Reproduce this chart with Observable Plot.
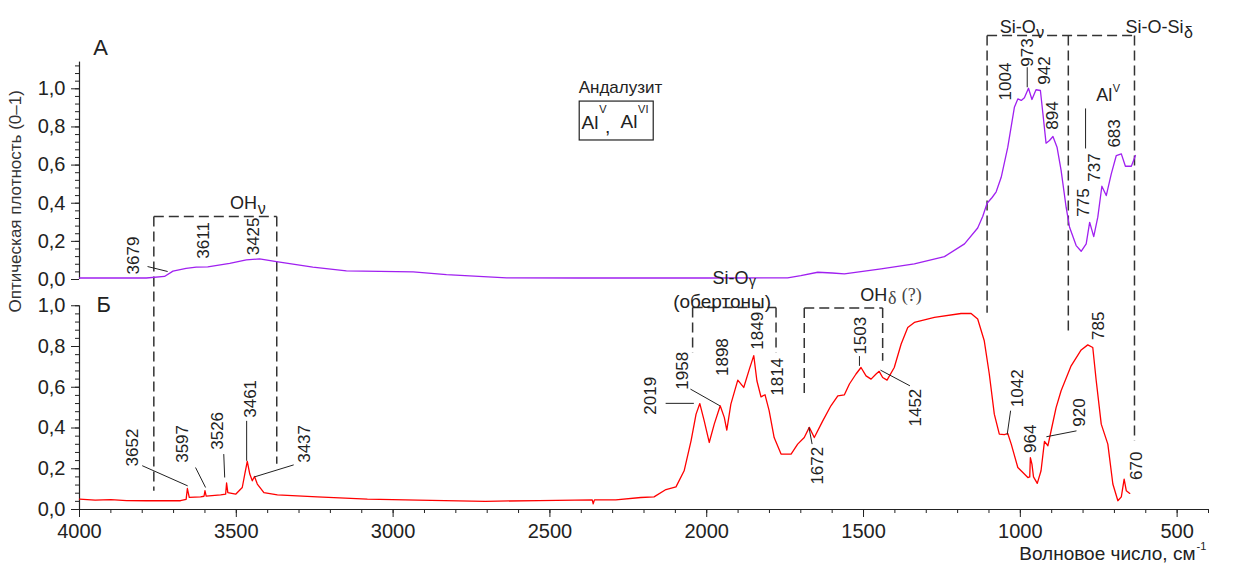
<!DOCTYPE html>
<html><head><meta charset="utf-8">
<script src="https://cdn.jsdelivr.net/npm/d3@7"></script>
<script src="https://cdn.jsdelivr.net/npm/@observablehq/plot@0.6"></script>
<style>body{margin:0;background:#fff;}#chart svg{display:block;}</style>
</head><body><div id="chart"></div>
<script>
// ---- Spectrum A (Андалузит, purple) ----
const wnA = [4000,3900,3787,3729,3702,3660,3628,3591,3521,3468,3426,3372,3256,3149,2936,2830,2638,2400,2000,1742,1700,1646,1600,1561,1444,1338,1242,1178,1136,1120,1106,1090,1077,1061,1040,1019,1008,997,987,974,963,950,936,928,918,907,896,883,870,854,843,822,806,790,779,772,766,753,740,726,710,694,678,665,646,633];
const absA = [0.008,0.008,0.008,0.016,0.044,0.058,0.065,0.066,0.085,0.103,0.108,0.094,0.065,0.045,0.040,0.026,0.009,0.008,0.008,0.009,0.02,0.038,0.034,0.030,0.056,0.082,0.12,0.187,0.27,0.33,0.40,0.43,0.46,0.536,0.694,0.903,0.947,0.939,0.953,1.003,0.944,0.995,0.991,0.869,0.715,0.729,0.75,0.694,0.572,0.379,0.274,0.178,0.148,0.187,0.30,0.26,0.225,0.327,0.489,0.44,0.554,0.65,0.659,0.594,0.594,0.65];
// ---- Spectrum Б (red) ----
const wnB = [4000,3950,3900,3850,3787,3723,3678,3660,3656,3650,3614,3603,3600,3596,3550,3534,3531,3527,3502,3481,3473,3465,3457,3449,3442,3433,3412,3369,3242,3082,2922,2706,2535,2365,2362,2358,2290,2210,2168,2130,2098,2072,2050,2034,2022,2008,1992,1976,1957,1944,1936,1923,1901,1882,1864,1850,1840,1827,1814,1801,1785,1763,1731,1710,1689,1673,1657,1630,1604,1582,1561,1545,1524,1508,1492,1476,1460,1450,1439,1425,1402,1380,1359,1338,1274,1189,1157,1136,1115,1099,1083,1067,1051,1040,1029,1008,976,970,968,963,958,946,934,923,912,900,886,870,838,806,785,769,758,742,721,705,689,678,669,662,651];
const absB = [0.051,0.046,0.048,0.044,0.043,0.043,0.043,0.05,0.103,0.06,0.062,0.065,0.092,0.066,0.072,0.075,0.13,0.083,0.075,0.108,0.174,0.236,0.174,0.141,0.162,0.125,0.083,0.072,0.062,0.051,0.046,0.040,0.044,0.047,0.028,0.047,0.047,0.059,0.062,0.098,0.111,0.19,0.337,0.468,0.52,0.435,0.329,0.419,0.509,0.452,0.39,0.517,0.635,0.599,0.689,0.755,0.632,0.553,0.563,0.485,0.353,0.272,0.272,0.321,0.353,0.403,0.353,0.435,0.509,0.558,0.563,0.616,0.665,0.697,0.656,0.64,0.665,0.678,0.648,0.635,0.697,0.812,0.893,0.918,0.943,0.962,0.962,0.935,0.828,0.665,0.468,0.37,0.367,0.373,0.321,0.206,0.157,0.16,0.255,0.223,0.16,0.128,0.19,0.334,0.313,0.40,0.50,0.583,0.705,0.783,0.808,0.795,0.632,0.419,0.321,0.125,0.043,0.062,0.149,0.092,0.079];

// ---- Ticks ----
const xTicks = [4000,3500,3000,2500,2000,1500,1000,500];
const xMinor = [4000,3900,3800,3700,3600,3500,3400,3300,3200,3100,3000,2900,2800,2700,2600,2500,2400,2300,2200,2100,2000,1900,1800,1700,1600,1500,1400,1300,1200,1100,1000,900,800,700,600,500,400];
const yTicksB = [0,0.2,0.4,0.6,0.8,1.0];
const yTicksA = [0,0.2,0.4,0.6,0.8,1.0];
const yMinorB = [0,0.04,0.08,0.12,0.16,0.2,0.24,0.28,0.32,0.36,0.4,0.44,0.48,0.52,0.56,0.6,0.64,0.68,0.72,0.76,0.8,0.84,0.88,0.92,0.96,1.0];
const yMinorA = [0,0.04,0.08,0.12,0.16,0.2,0.24,0.28,0.32,0.36,0.4,0.44,0.48,0.52,0.56,0.6,0.64,0.68,0.72,0.76,0.8,0.84,0.88,0.92,0.96,1.0,1.04,1.08,1.12];
const yAxisTopA = 1.14;

// ---- Peak labels (rotated) : text, panel, wavenumber, value ----
const peakText  = ["3679","3611","3425","1004","973","942","894","775","737","683",
                   "3652","3597","3526","3461","3437","2019","1958","1898","1849","1814","1672","1503","1452","1042","964","920","785","670"];
const peakPanel = ["A","A","A","A","A","A","A","A","A","A",
                   "B","B","B","B","B","B","B","B","B","B","B","B","B","B","B","B","B","B"];
const peakW     = [3828,3605,3445,1046,978,923,896,798,763,700,
                   3832,3673,3561,3455,3283,2179,2078,1951,1839,1773,1648,1510,1334,1010,968,811,752,631];
const peakV     = [0.126,0.205,0.226,1.038,1.19,1.096,0.86,0.404,0.587,0.766,
                   0.304,0.322,0.386,0.543,0.322,0.558,0.681,0.748,0.877,0.651,0.215,0.853,0.50,0.595,0.347,0.476,0.902,0.215];

// ---- Leader lines : panel, w1, v1, w2, v2 ----
const leadPanel = ["A","A","A","B","B","B","B","B","B","B","B","B","B","B","B"];
const leadW1 = [3783,978,792,3800,3630,3540,3467,3317,2131,2052,1674,1513,1446,1042,917];
const leadV1 = [0.068,1.113,0.897,0.215,0.206,0.272,0.435,0.219,0.521,0.591,0.403,0.753,0.684,0.367,0.357];
const leadW2 = [3719,978,792,3655,3598,3537,3467,3442,2041,1958,1664,1513,1352,1031,821];
const leadV2 = [0.042,1.008,0.687,0.116,0.108,0.157,0.239,0.16,0.521,0.509,0.321,0.705,0.607,0.485,0.386];

// ---- Dashed group boxes : panel1, w1, v1, panel2, w2, v2 ----
const dashP1 = ["A","A","A","A","A","A","A","B","B","B","B","B","B"];
const dashW1 = [3763,3763,3371,1106,1106,847,636,2045,2045,1779,1689,1689,1439];
const dashV1 = [0.33,0.33,0.33,1.279,1.279,1.279,1.279,0.991,0.991,0.991,0.989,0.989,0.989];
const dashP2 = ["A","B","B","A","B","B","B","B","B","B","B","B","B"];
const dashW2 = [3371,3763,3371,636,1106,847,636,1779,2045,1779,1439,1689,1439];
const dashV2 = [0.33,0.092,0.224,1.279,0.966,0.863,0.337,0.991,0.769,0.769,0.989,0.558,0.73];

// ---- Centered horizontal texts ----
const cText  = ["A","Б","Андалузит","(обертоны)",","];
const cPanel = ["A","B","A","B","A"];
const cW     = [3933,3923,2275,1951,2316];
const cV     = [1.214,1.005,1.007,1.018,0.80];
const cSize  = [22,22,17,19,19];
// ---- Base texts (right end at given wavenumber) ----
const bText  = ["OH","Si-O","Si-O-Si","Si-O","OH","Al","Al","Al"];
const bPanel = ["A","A","A","B","B","A","A","A"];
const bW     = [3434,951,480,1867,1424,2345,2221,707];
const bV     = [0.398,1.321,1.321,1.135,1.054,0.823,0.826,0.965];
const bSize  = [18,18,18,18,18,19,19,18];
// ---- Sub/superscripts (left end at given wavenumber) ----
const sText  = ["ν","ν","δ","γ","V","VI","V"];
const sPanel = ["A","A","A","B","A","A","A"];
const sW     = [3432,949,478,1865,2343,2219,705];
const sV     = [0.372,1.295,1.295,1.117,0.89,0.89,1.0];
const sSize  = [16,16,16,14,11,11,11];
// serif parts of "OHδ (?)"
const serText = ["δ","(?)"];
const serW = [1422,1378];
const serV = [1.037,1.054];
const serSize = [18,18];
// box around "Al, Al"
const boxW = [2405,2169];
const boxV = [0.729,0.933];

const yLabel = "Оптическая плотность (0–1)";
const xLabel = "Волновое число, см";
const xLabelSup = "-1";

// ---- panel mapping onto one shared vertical scale ----
const OFF = 1.1288, K = 0.936;
const fy = (p, v) => p === "A" ? OFF + K * v : v;

const specA = wnA.map((w, i) => ({w, y: fy("A", absA[i])}));
const specB = wnB.map((w, i) => ({w, y: fy("B", absB[i])}));
const peaks = peakText.map((t, i) => ({t, w: peakW[i], y: fy(peakPanel[i], peakV[i])}));
const leads = leadW1.map((w, i) => ({x1: w, y1: fy(leadPanel[i], leadV1[i]), x2: leadW2[i], y2: fy(leadPanel[i], leadV2[i])}));
const dashes = dashW1.map((w, i) => ({x1: w, y1: fy(dashP1[i], dashV1[i]), x2: dashW2[i], y2: fy(dashP2[i], dashV2[i])}));
const ctexts = cText.map((t, i) => ({t, w: cW[i], y: fy(cPanel[i], cV[i]), s: cSize[i]}));
const btexts = bText.map((t, i) => ({t, w: bW[i], y: fy(bPanel[i], bV[i]), s: bSize[i]}));
const stexts = sText.map((t, i) => ({t, w: sW[i], y: fy(sPanel[i], sV[i]), s: sSize[i]}));
const sertexts = serText.map((t, i) => ({t, w: serW[i], y: fy("B", serV[i]), s: serSize[i]}));
const fmt = v => v.toFixed(1).replace(".", ",");

const ink = "#222";
const chart = Plot.plot({
  width: 1235, height: 569,
  marginLeft: 79, marginRight: 27, marginTop: 20, marginBottom: 60,
  x: {domain: [4000, 400], axis: null},
  y: {domain: [0, 2.4], axis: null},
  style: {fontFamily: "'Liberation Sans', Arial, sans-serif", color: ink, background: "#fff", overflow: "visible"},
  marks: [
    // x axis
    Plot.ruleY([0], {stroke: ink, strokeWidth: 1.2}),
    Plot.axisX({ticks: xMinor, tickSize: 4, tickFormat: () => "", label: null, stroke: ink}),
    Plot.axisX({ticks: xTicks, tickSize: 8, tickPadding: 6, fontSize: 20, tickFormat: d => String(d), label: null, stroke: ink, fill: ink}),
    // y axis, panel Б
    Plot.ruleX([4000], {y1: 0, y2: 1, stroke: ink, strokeWidth: 1.2}),
    Plot.axisY({ticks: yMinorB.map(v => fy("B", v)), tickSize: 4, tickFormat: () => "", label: null, stroke: ink}),
    Plot.axisY({ticks: yTicksB.map(v => fy("B", v)), tickSize: 8, tickPadding: 6, fontSize: 20, tickFormat: d => fmt(d), label: null, stroke: ink, fill: ink}),
    // y axis, panel A
    Plot.ruleX([4000], {y1: fy("A", 0), y2: fy("A", yAxisTopA), stroke: ink, strokeWidth: 1.2}),
    Plot.axisY({ticks: yMinorA.map(v => fy("A", v)), tickSize: 4, tickFormat: () => "", label: null, stroke: ink}),
    Plot.axisY({ticks: yTicksA.map(v => fy("A", v)), tickSize: 8, tickPadding: 6, fontSize: 20, tickFormat: d => fmt((d - OFF) / K), label: null, stroke: ink, fill: ink}),
    // axis titles
    Plot.text([yLabel], {frameAnchor: "left", y: [fy("A", 0.41)], text: d => d, rotate: -90, textAnchor: "middle", lineAnchor: "middle", dx: -64, fontSize: 17, fill: "#333"}),
    Plot.text([xLabel], {frameAnchor: "bottom-right", text: d => d, textAnchor: "end", lineAnchor: "middle", dx: -13, dy: 44, fontSize: 19, fill: ink}),
    Plot.text([xLabelSup], {frameAnchor: "bottom-right", text: d => d, textAnchor: "start", lineAnchor: "middle", dx: -12, dy: 37, fontSize: 11, fill: ink}),
    // dashed group boxes
    Plot.link(dashes, {x1: "x1", y1: "y1", x2: "x2", y2: "y2", stroke: "#333", strokeWidth: 1.5, strokeDasharray: "10,5"}),
    // spectra
    Plot.line(specA, {x: "w", y: "y", stroke: "#a020f0", strokeWidth: 1.3}),
    Plot.line(specB, {x: "w", y: "y", stroke: "#ff0000", strokeWidth: 1.3}),
    // leader lines
    Plot.link(leads, {x1: "x1", y1: "y1", x2: "x2", y2: "y2", stroke: ink, strokeWidth: 1}),
    // peak labels
    Plot.text(peaks, {x: "w", y: "y", text: "t", rotate: -90, fontSize: 17, fill: ink}),
    // texts
    Plot.text(ctexts, {x: "w", y: "y", text: "t", fontSize: "s", fill: ink}),
    Plot.text(btexts, {x: "w", y: "y", text: "t", fontSize: "s", textAnchor: "end", fill: ink}),
    Plot.text(stexts, {x: "w", y: "y", text: "t", fontSize: "s", textAnchor: "start", fill: ink}),
    Plot.text(sertexts, {x: "w", y: "y", text: "t", fontSize: "s", textAnchor: "start", fill: "#444", fontFamily: "'Liberation Serif', 'DejaVu Serif', serif"}),
    Plot.rect([0], {x1: [boxW[0]], x2: [boxW[1]], y1: [fy("A", boxV[0])], y2: [fy("A", boxV[1])], fill: "none", stroke: ink, strokeWidth: 1.2})
  ]
});
document.getElementById("chart").appendChild(chart);
</script>
</body></html>
